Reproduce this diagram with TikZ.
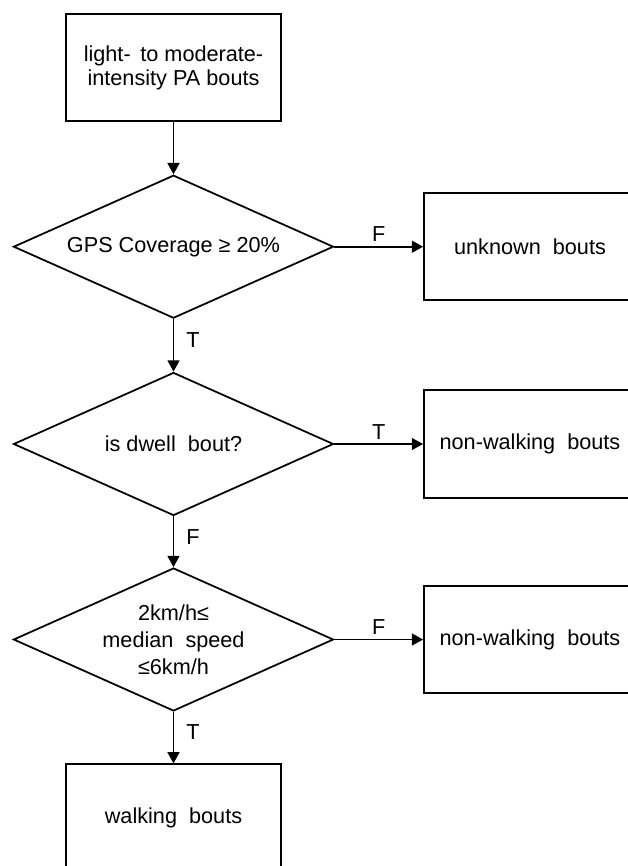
\documentclass[tikz,border=0pt]{standalone}
\usepackage{fontspec}
\setmainfont{Liberation Sans}
\usetikzlibrary{shapes.geometric,arrows.meta}

\begin{document}
\begin{tikzpicture}[x=0.03cm,y=-0.03cm,
  boutbox/.style={draw,line width=1.5pt,minimum width=6.45cm,minimum height=3.22cm,align=center,inner sep=2pt,font=\fontsize{18.5}{20.5}\selectfont},
  testbox/.style={draw,diamond,shape aspect=2.24,line width=1.5pt,minimum width=9.6cm,minimum height=4.29cm,inner sep=0pt,align=center,font=\fontsize{18.5}{23}\selectfont},
  flow/.style={line width=1.5pt,-{Triangle[length=0.34cm,width=0.36cm]}},
  tf/.style={font=\fontsize{18.5}{21}\selectfont}]
\clip (0,0) rectangle (628,866);
% left column
\node[boutbox] (pabouts) at (173.5,67.5) {light-\, to moderate-\\intensity PA bouts};
\node[testbox] (gps) at (173.5,246.7) {GPS Coverage ≥ 20\%};
\node[testbox] (dwell) at (173.5,444) {is dwell~~bout?};
\node[testbox] (speed) at (173.5,639.5) {2km/h≤\\median~~speed\\≤6km/h};
\node[boutbox] (walking) at (173.5,818) {walking~~bouts};
% right column
\node[boutbox,minimum width=6.36cm] (unknown) at (530,246.7) {unknown~~bouts};
\node[boutbox,minimum width=6.36cm] (nonwalka) at (530,444) {non-walking~~bouts};
\node[boutbox,minimum width=6.36cm] (nonwalkb) at (530,639.5) {non-walking~~bouts};
% connectors
\draw[flow] (pabouts) -- (gps);
\draw[flow] (gps) -- node[tf,pos=0.4,right,xshift=7pt] {T} (dwell);
\draw[flow] (dwell) -- node[tf,pos=0.4,right,xshift=7pt] {F} (speed);
\draw[flow] (speed) -- node[tf,pos=0.4,right,xshift=7pt] {T} (walking);
\draw[flow] (gps) -- node[tf,midway,above] {F} (unknown);
\draw[flow,line width=1pt] (dwell) -- node[tf,midway,above] {T} (nonwalka);
\draw[flow] (speed) -- node[tf,midway,above] {F} (nonwalkb);
\end{tikzpicture}
\end{document}
